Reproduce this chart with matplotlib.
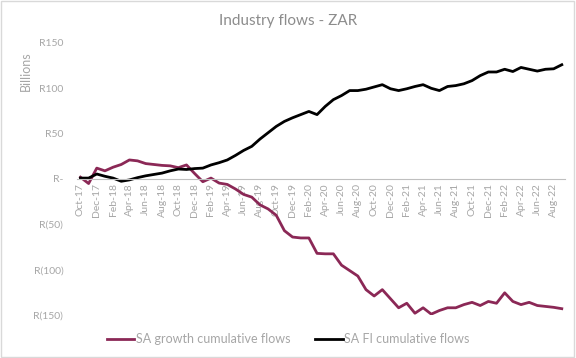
import numpy as np
import matplotlib
matplotlib.use("Agg")
import matplotlib.pyplot as plt
from matplotlib.patches import Rectangle

plt.rcParams['font.family'] = ['Lato', 'DejaVu Sans']

# monthly, Oct-17 .. Sep-22
months = ["Oct-17", "Nov-17", "Dec-17", "Jan-18", "Feb-18", "Mar-18", "Apr-18", "May-18",
          "Jun-18", "Jul-18", "Aug-18", "Sep-18", "Oct-18", "Nov-18", "Dec-18", "Jan-19",
          "Feb-19", "Mar-19", "Apr-19", "May-19", "Jun-19", "Jul-19", "Aug-19", "Sep-19",
          "Oct-19", "Nov-19", "Dec-19", "Jan-20", "Feb-20", "Mar-20", "Apr-20", "May-20",
          "Jun-20", "Jul-20", "Aug-20", "Sep-20", "Oct-20", "Nov-20", "Dec-20", "Jan-21",
          "Feb-21", "Mar-21", "Apr-21", "May-21", "Jun-21", "Jul-21", "Aug-21", "Sep-21",
          "Oct-21", "Nov-21", "Dec-21", "Jan-22", "Feb-22", "Mar-22", "Apr-22", "May-22",
          "Jun-22", "Jul-22", "Aug-22", "Sep-22"]

growth = [2, -5, 12, 9, 13, 16, 21, 20, 17, 16,
          15, 14.5, 12.5, 15.5, 6, -3, 1, -4.5, -6, -11,
          -17, -20, -28.5, -33, -40, -57, -64, -65, -65, -82,
          -82.5, -82.5, -95, -101, -107, -122, -129, -122, -132, -142,
          -137, -148, -142, -149, -145, -142, -142, -138.5, -136, -139.5,
          -135, -137, -125.5, -135, -138.5, -136, -139.5, -140.5, -141.5, -143]

fi = [1, 1, 5.5, 3, 1, -2.5, -1, 1.5, 3.5, 5,
      6.5, 9, 11, 10.5, 11.5, 12, 15.5, 18, 21, 26,
      31.5, 36, 44, 51, 58, 63.5, 67.5, 71, 74.5, 71,
      80, 87.5, 92, 97.5, 97.5, 99, 101.5, 104, 99.5, 97.5,
      99.5, 102, 104, 100, 97.5, 102, 103, 105, 108.5, 114,
      118, 118, 121, 118.5, 123, 121, 119, 121, 121.5, 126]

yticks = [150, 100, 50, 0, -50, -100, -150]
ytick_labels = ["R150", "R100", "R50", "R-", "R(50)", "R(100)", "R(150)"]

grey = '#a6a6a6'
maroon = '#8B2856'

fig = plt.figure(figsize=(5.76, 3.58), dpi=100)
ax = fig.add_axes([0.134, 0.12, 0.847, 0.76])

x = np.arange(len(months))
ax.plot(x, growth, color=maroon, lw=2.0, label="SA growth cumulative flows")
ax.plot(x, fi, color='black', lw=2.0, label="SA FI cumulative flows")

ax.set_xlim(-0.4, len(months) - 0.6)
ax.set_ylim(-150, 150)

for s in ['top', 'right', 'left']:
    ax.spines[s].set_visible(False)
ax.spines['bottom'].set_position(('data', 0))
ax.spines['bottom'].set_color('#bfbfbf')
ax.spines['bottom'].set_linewidth(0.8)

ax.set_yticks(yticks)
ax.set_yticklabels(ytick_labels)
ax.set_xticks(x[::2])
ax.set_xticklabels(months[::2], rotation=90)
ax.tick_params(axis='both', length=0, colors=grey, labelsize=7.5)
ax.tick_params(axis='y', pad=10)
ax.tick_params(axis='x', pad=3)

fig.text(0.5, 0.94, "Industry flows - ZAR", ha='center', va='center', color='#8c8c8c', fontsize=11)
fig.text(0.045, 0.80, "Billions", rotation=90, ha='center', va='center', color=grey, fontsize=9)

leg = fig.legend(loc='center', bbox_to_anchor=(0.5, 0.052), ncol=2, frameon=False,
                 fontsize=9, handlelength=2.2, handletextpad=0.1, columnspacing=2.0)
for t in leg.get_texts():
    t.set_color(grey)

fig.patches.append(Rectangle((0.002, 0.003), 0.995, 0.993, transform=fig.transFigure,
                             fill=False, edgecolor='#d9d9d9', lw=1))

fig.savefig("out.png", dpi=100)
